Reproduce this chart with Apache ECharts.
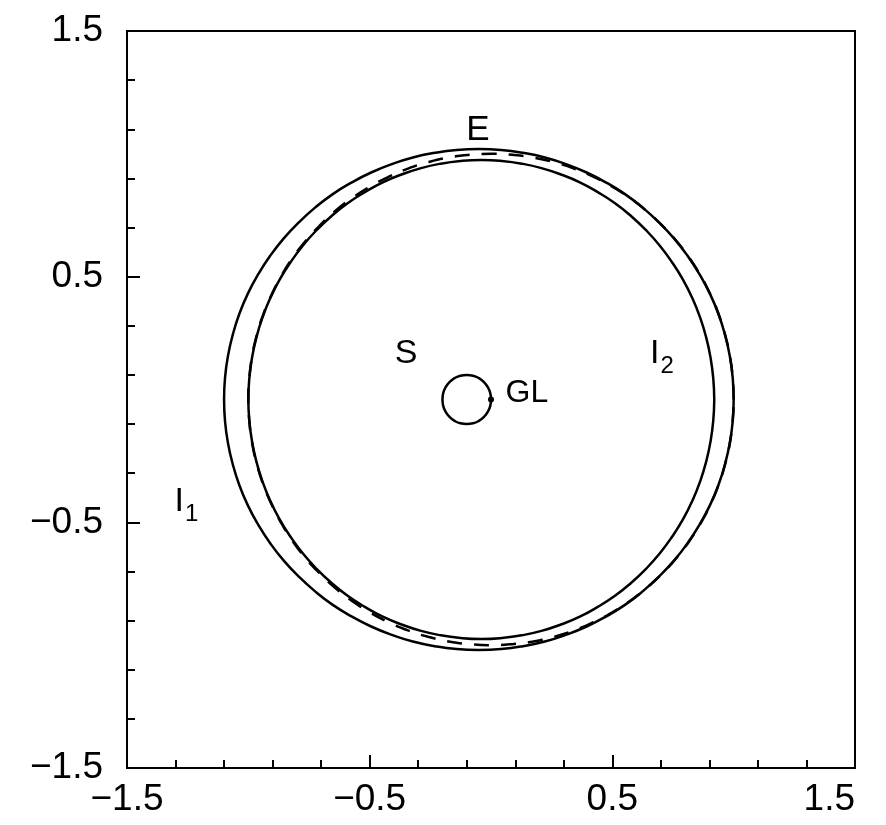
<!DOCTYPE html>
<html>
<head>
<meta charset="utf-8">
<script src="https://cdn.jsdelivr.net/npm/echarts@6/dist/echarts.min.js"></script>
<style>
    html, body { margin: 0; padding: 0; background: #fff; }
    #main { width: 886px; height: 825px; }
</style>
</head>
<body>
<div id="main"></div>
<script>
// outer solid curve, points read around the ring every 5 deg
var outerX = [1.000, 0.996, 0.984, 0.964, 0.937, 0.902, 0.859, 0.810, 0.754, 0.692, 0.625, 0.552, 0.475, 0.394, 0.309, 0.222, 0.132, 0.042, -0.050,
    -0.142, -0.232, -0.322, -0.409, -0.494, -0.575, -0.652, -0.725, -0.792, -0.854, -0.910, -0.959, -1.002, -1.037, -1.064, -1.084, -1.096, -1.100,
    -1.096, -1.084, -1.064, -1.037, -1.002, -0.959, -0.910, -0.854, -0.792, -0.725, -0.652, -0.575, -0.494, -0.409, -0.322, -0.232, -0.142, -0.050,
    0.042, 0.132, 0.222, 0.309, 0.394, 0.475, 0.552, 0.625, 0.692, 0.754, 0.810, 0.859, 0.902, 0.937, 0.964, 0.984, 0.996, 1.000];
var outerY = [0.000, 0.089, 0.177, 0.264, 0.349, 0.431, 0.510, 0.585, 0.656, 0.721, 0.781, 0.836, 0.883, 0.924, 0.958, 0.985, 1.004, 1.016, 1.020,
    1.016, 1.004, 0.985, 0.958, 0.924, 0.883, 0.836, 0.781, 0.721, 0.656, 0.585, 0.510, 0.431, 0.349, 0.264, 0.177, 0.089, 0.000,
    -0.089, -0.177, -0.264, -0.349, -0.431, -0.510, -0.585, -0.656, -0.721, -0.781, -0.836, -0.883, -0.924, -0.958, -0.985, -1.004, -1.016, -1.020,
    -1.016, -1.004, -0.985, -0.958, -0.924, -0.883, -0.836, -0.781, -0.721, -0.656, -0.585, -0.510, -0.431, -0.349, -0.264, -0.177, -0.089, 0.000];

// inner solid curve
var innerX = [0.920, 0.916, 0.905, 0.887, 0.862, 0.830, 0.791, 0.746, 0.695, 0.639, 0.577, 0.511, 0.440, 0.366, 0.288, 0.208, 0.127, 0.044, -0.040,
    -0.124, -0.207, -0.288, -0.368, -0.446, -0.520, -0.591, -0.657, -0.719, -0.775, -0.826, -0.871, -0.910, -0.942, -0.967, -0.985, -0.996, -1.000,
    -0.996, -0.985, -0.967, -0.942, -0.910, -0.871, -0.826, -0.775, -0.719, -0.657, -0.591, -0.520, -0.446, -0.368, -0.288, -0.207, -0.124, -0.040,
    0.044, 0.127, 0.208, 0.288, 0.366, 0.440, 0.511, 0.577, 0.639, 0.695, 0.746, 0.791, 0.830, 0.862, 0.887, 0.905, 0.916, 0.920];
var innerY = [0.000, 0.085, 0.169, 0.252, 0.333, 0.412, 0.488, 0.559, 0.627, 0.689, 0.747, 0.799, 0.844, 0.884, 0.916, 0.942, 0.960, 0.971, 0.975,
    0.971, 0.960, 0.942, 0.916, 0.884, 0.844, 0.799, 0.747, 0.689, 0.627, 0.559, 0.488, 0.412, 0.333, 0.252, 0.169, 0.085, 0.000,
    -0.085, -0.169, -0.252, -0.333, -0.412, -0.488, -0.559, -0.627, -0.689, -0.747, -0.799, -0.844, -0.884, -0.916, -0.942, -0.960, -0.971, -0.975,
    -0.971, -0.960, -0.942, -0.916, -0.884, -0.844, -0.799, -0.747, -0.689, -0.627, -0.559, -0.488, -0.412, -0.333, -0.252, -0.169, -0.085, 0.000];

// dashed ring
var ringX = [1.000, 0.996, 0.985, 0.966, 0.940, 0.906, 0.866, 0.819, 0.766, 0.707, 0.643, 0.574, 0.500, 0.423, 0.342, 0.259, 0.174, 0.087, 0.000,
    -0.087, -0.174, -0.259, -0.342, -0.423, -0.500, -0.574, -0.643, -0.707, -0.766, -0.819, -0.866, -0.906, -0.940, -0.966, -0.985, -0.996, -1.000,
    -0.996, -0.985, -0.966, -0.940, -0.906, -0.866, -0.819, -0.766, -0.707, -0.643, -0.574, -0.500, -0.423, -0.342, -0.259, -0.174, -0.087, 0.000,
    0.087, 0.174, 0.259, 0.342, 0.423, 0.500, 0.574, 0.643, 0.707, 0.766, 0.819, 0.866, 0.906, 0.940, 0.966, 0.985, 0.996, 1.000];
var ringY = [0.000, 0.087, 0.174, 0.259, 0.342, 0.423, 0.500, 0.574, 0.643, 0.707, 0.766, 0.819, 0.866, 0.906, 0.940, 0.966, 0.985, 0.996, 1.000,
    0.996, 0.985, 0.966, 0.940, 0.906, 0.866, 0.819, 0.766, 0.707, 0.643, 0.574, 0.500, 0.423, 0.342, 0.259, 0.174, 0.087, 0.000,
    -0.087, -0.174, -0.259, -0.342, -0.423, -0.500, -0.574, -0.643, -0.707, -0.766, -0.819, -0.866, -0.906, -0.940, -0.966, -0.985, -0.996, -1.000,
    -0.996, -0.985, -0.966, -0.940, -0.906, -0.866, -0.819, -0.766, -0.707, -0.643, -0.574, -0.500, -0.423, -0.342, -0.259, -0.174, -0.087, 0.000];

// small circle next to GL
var smallX = [0.000, -0.003, -0.013, -0.029, -0.050, -0.074, -0.100, -0.126, -0.150, -0.171, -0.187, -0.197, -0.200,
    -0.197, -0.187, -0.171, -0.150, -0.126, -0.100, -0.074, -0.050, -0.029, -0.013, -0.003, 0.000];
var smallY = [0.000, 0.026, 0.050, 0.071, 0.087, 0.097, 0.100, 0.097, 0.087, 0.071, 0.050, 0.026, 0.000,
    -0.026, -0.050, -0.071, -0.087, -0.097, -0.100, -0.097, -0.087, -0.071, -0.050, -0.026, 0.000];

// lens position
var lensPoint = [0, 0];

// text labels
var labelNames = ['E', 'S', 'GL', 'I1', 'I2'];
var labelX = [-0.054, -0.350, 0.148, -1.255, 0.704];
var labelY = [1.094, 0.187, 0.026, -0.415, 0.187];

var tickFont = 'Liberation Sans';
var textFont = "'Liberation Sans Narrow', 'Liberation Sans'";
var labelSize = { E: 35, S: 34, GL: 32, I1: 34, I2: 34 };

function pairs(xs, ys) {
    var out = [];
    for (var i = 0; i < xs.length; i++) {
        out.push([xs[i], ys[i]]);
    }
    return out;
}

function minus(v) {
    return String(v).replace('-', '\u2212');
}

var labelData = [];
for (var i = 0; i < labelNames.length; i++) {
    var nm = labelNames[i];
    var txt = nm;
    if (nm.charAt(0) == 'I') {
        txt = '{a|I}{s|' + nm.charAt(1) + '}';
    }
    labelData.push({
        value: [labelX[i], labelY[i]],
        label: {
            show: true,
            position: 'inside',
            formatter: txt,
            fontSize: labelSize[nm],
            fontFamily: textFont,
            color: '#000',
            rich: {
                a: { fontSize: 34, fontFamily: textFont, color: '#000', verticalAlign: 'top', lineHeight: 34 },
                s: { fontSize: 24, fontFamily: textFont, color: '#000', verticalAlign: 'top', lineHeight: 24, padding: [18, 0, 0, 1] }
            }
        }
    });
}

var axisCommon = {
    type: 'value',
    min: -1.5,
    max: 1.5,
    interval: 1,
    splitLine: { show: false },
    axisLine: { show: true, onZero: false, lineStyle: { color: '#000', width: 2 } },
    axisTick: { show: true, inside: true, length: 13, lineStyle: { color: '#000', width: 2 } },
    minorTick: { show: true, splitNumber: 5, length: 8, lineStyle: { color: '#000', width: 2 } },
    minorSplitLine: { show: false }
};

var myChart = echarts.init(document.getElementById('main'));

var option = {
    animation: false,
    backgroundColor: '#fff',
    grid: {
        left: 127,
        right: 31,
        top: 31,
        bottom: 57,
        show: true,
        borderColor: '#000',
        borderWidth: 2,
        outerBoundsMode: 'none'
    },
    xAxis: Object.assign({}, axisCommon, {
        axisLabel: {
            margin: 13,
            fontSize: 37,
            fontFamily: tickFont,
            color: '#000',
            alignMaxLabel: 'right',
            formatter: minus
        }
    }),
    yAxis: Object.assign({}, axisCommon, {
        axisLabel: {
            margin: 24,
            fontSize: 37,
            fontFamily: tickFont,
            color: '#000',
            formatter: minus
        }
    }),
    series: [
        {
            name: 'outer',
            type: 'line',
            smooth: true,
            symbol: 'none',
            lineStyle: { color: '#000', width: 2.5 },
            data: pairs(outerX, outerY)
        },
        {
            name: 'inner',
            type: 'line',
            smooth: true,
            symbol: 'none',
            lineStyle: { color: '#000', width: 2.5 },
            data: pairs(innerX, innerY)
        },
        {
            name: 'ring',
            type: 'line',
            smooth: true,
            symbol: 'none',
            lineStyle: { color: '#000', width: 2.5, type: [15, 12] },
            data: pairs(ringX, ringY)
        },
        {
            name: 'small',
            type: 'line',
            smooth: true,
            symbol: 'none',
            lineStyle: { color: '#000', width: 2.5 },
            data: pairs(smallX, smallY)
        },
        {
            name: 'GL',
            type: 'scatter',
            symbolSize: 6,
            itemStyle: { color: '#000', opacity: 1 },
            data: [lensPoint]
        },
        {
            name: 'labels',
            type: 'scatter',
            symbolSize: 0,
            silent: true,
            itemStyle: { opacity: 1 },
            data: labelData
        }
    ]
};
myChart.setOption(option);
</script>
</body>
</html>
